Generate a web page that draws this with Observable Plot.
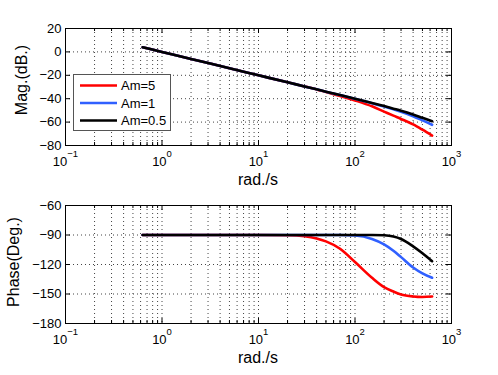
<!DOCTYPE html>
<html><head><meta charset="utf-8">
<script src="https://cdn.jsdelivr.net/npm/d3@7"></script>
<script src="https://cdn.jsdelivr.net/npm/@observablehq/plot@0.6"></script>
<style>
body{margin:0;background:#fff}
#chart{position:relative;width:498px;height:375px;font-family:"Liberation Sans",Arial,sans-serif}
#chart svg{position:absolute;left:0}
</style>
</head><body><div id="chart"></div>
<script>
// ---- data ----
const seriesNames = ["Am=5", "Am=1", "Am=0.5"];
const seriesColors = ["#ff0000", "#3060ff", "#000000"];
const freq = [0.63, 1, 2, 5, 10, 20, 30, 40, 50, 70, 100, 150, 200, 250, 300, 400, 500, 630];
const magRed   = [4, 0, -6, -14, -20, -26, -29.5, -32.1, -34.3, -37.6, -41.5, -46.5, -51, -54.5, -57.3, -62, -66.5, -71.5];
const magBlue  = [4, 0, -6, -14, -20, -26, -29.5, -32, -34, -36.9, -40.1, -43.8, -46.7, -49.1, -51.2, -55, -58.5, -62.3];
const magBlack = [4, 0, -6, -14, -20, -26, -29.5, -32, -34, -36.9, -40, -43.6, -46.3, -48.5, -50.3, -53.5, -56.3, -59.2];
const phRed   = [-90, -90, -90, -90, -90, -90.2, -91.3, -93.5, -96.5, -104, -117.5, -133.5, -143, -147.5, -150.5, -152.5, -153, -152.5];
const phBlue  = [-90, -90, -90, -90, -90, -90, -90, -90, -90, -90, -90.5, -94, -99.5, -106, -112.5, -123, -129, -133.5];
const phBlack = [-90, -90, -90, -90, -90, -90, -90, -90, -90, -90, -90, -90, -90.3, -91.5, -94, -101.5, -108.5, -116.6];
const xMajor = [0.1, 1, 10, 100, 1000];
const xExponents = ["−1", "0", "1", "2", "3"];
const minorMultipliers = [2, 3, 4, 5, 6, 7, 8, 9];
const magTicks = [-80, -60, -40, -20, 0, 20];
const phTicks = [-180, -150, -120, -90, -60];

const xMinor = xMajor.slice(0, -1).flatMap(d => minorMultipliers.map(m => d * m));
const xAll = xMajor.concat(xMinor);

function rowsOf(arrays) {
  const rows = [];
  arrays.forEach((arr, si) => arr.forEach((v, i) => rows.push({w: freq[i], v, s: seriesNames[si]})));
  return rows;
}

const W = 498, ML = 65, MR = 47, FW = W - ML - MR;

function bode(rows, yDomain, yTicks, height, mt, mb) {
  const FH = height - mt - mb;
  const gridStyle = {stroke: "#444", strokeDasharray: "1,3", strokeWidth: 1};
  const svg = Plot.plot({
    width: W, height, marginLeft: ML, marginRight: MR, marginTop: mt, marginBottom: mb,
    style: {fontFamily: "Liberation Sans, Arial, sans-serif", fontSize: "13px", background: "transparent", color: "#000", overflow: "visible"},
    x: {type: "log", domain: [0.1, 1000], ticks: xMajor, tickSize: 0, tickPadding: 11, label: null,
        tickFormat: d => { const i = xMajor.indexOf(d); return i >= 0 ? "10^" + xExponents[i] : ""; }},
    y: {domain: yDomain, ticks: yTicks, tickSize: 0, tickPadding: 4, label: null},
    color: {domain: seriesNames, range: seriesColors},
    marks: [
      Plot.ruleX(xAll, {x: d => d, ...gridStyle}),
      Plot.ruleY(yTicks, {y: d => d, ...gridStyle}),
      Plot.line(rows, {x: "w", y: "v", z: "s", stroke: "s", strokeWidth: 2.6, curve: "monotone-x"}),
      Plot.tickX(xMajor, {x: d => d, insetTop: FH - 5, stroke: "#000"}),
      Plot.tickX(xMajor, {x: d => d, insetBottom: FH - 5, stroke: "#000"}),
      Plot.tickX(xMinor, {x: d => d, insetTop: FH - 3, stroke: "#000"}),
      Plot.tickX(xMinor, {x: d => d, insetBottom: FH - 3, stroke: "#000"}),
      Plot.tickY(yTicks, {y: d => d, insetRight: FW - 5, stroke: "#000"}),
      Plot.tickY(yTicks, {y: d => d, insetLeft: FW - 5, stroke: "#000"}),
      Plot.frame({stroke: "#000", strokeWidth: 1})
    ]
  });
  const ns = "http://www.w3.org/2000/svg";
  svg.querySelectorAll("text").forEach(t => {
    const m = t.textContent.match(/^10\^(.+)$/);
    if (m) {
      t.textContent = "10";
      const ts = document.createElementNS(ns, "tspan");
      ts.setAttribute("dy", "-9");
      ts.setAttribute("font-size", "9.5");
      ts.textContent = m[1];
      t.appendChild(ts);
    }
  });
  return svg;
}

const chart = document.getElementById("chart");
const top1 = bode(rowsOf([magRed, magBlue, magBlack]), [-80, 20], magTicks, 195, 28, 50);
top1.style.top = "0px";
const bot = bode(rowsOf([phRed, phBlue, phBlack]), [-180, -60], phTicks, 195, 25, 52);
bot.style.top = "180px";
chart.appendChild(top1);
chart.appendChild(bot);

// overlay: axis titles and legend
const ov = d3.create("svg").attr("width", W).attr("height", 375)
  .style("top", "0px").style("font-family", "Liberation Sans, Arial, sans-serif");
ov.append("text").attr("transform", "translate(27,80) rotate(-90)").attr("text-anchor", "middle")
  .attr("font-size", 16).text("Mag.(dB.)");
ov.append("text").attr("transform", "translate(19,262) rotate(-90)").attr("text-anchor", "middle")
  .attr("font-size", 16).text("Phase(Deg.)");
ov.append("text").attr("x", ML + FW / 2).attr("y", 185).attr("text-anchor", "middle").attr("font-size", 16).text("rad./s");
ov.append("text").attr("x", ML + FW / 2).attr("y", 363).attr("text-anchor", "middle").attr("font-size", 16).text("rad./s");
const lg = ov.append("g");
lg.append("rect").attr("x", 73.5).attr("y", 74.5).attr("width", 97).attr("height", 56)
  .attr("fill", "#fff").attr("stroke", "#555");
seriesNames.forEach((name, i) => {
  const y = 85.5 + i * 17.5;
  lg.append("line").attr("x1", 80).attr("x2", 117).attr("y1", y).attr("y2", y)
    .attr("stroke", seriesColors[i]).attr("stroke-width", 2.6);
  lg.append("text").attr("x", 121).attr("y", y + 4.7).attr("font-size", 13).text(name);
});
chart.appendChild(ov.node());
</script></body></html>
